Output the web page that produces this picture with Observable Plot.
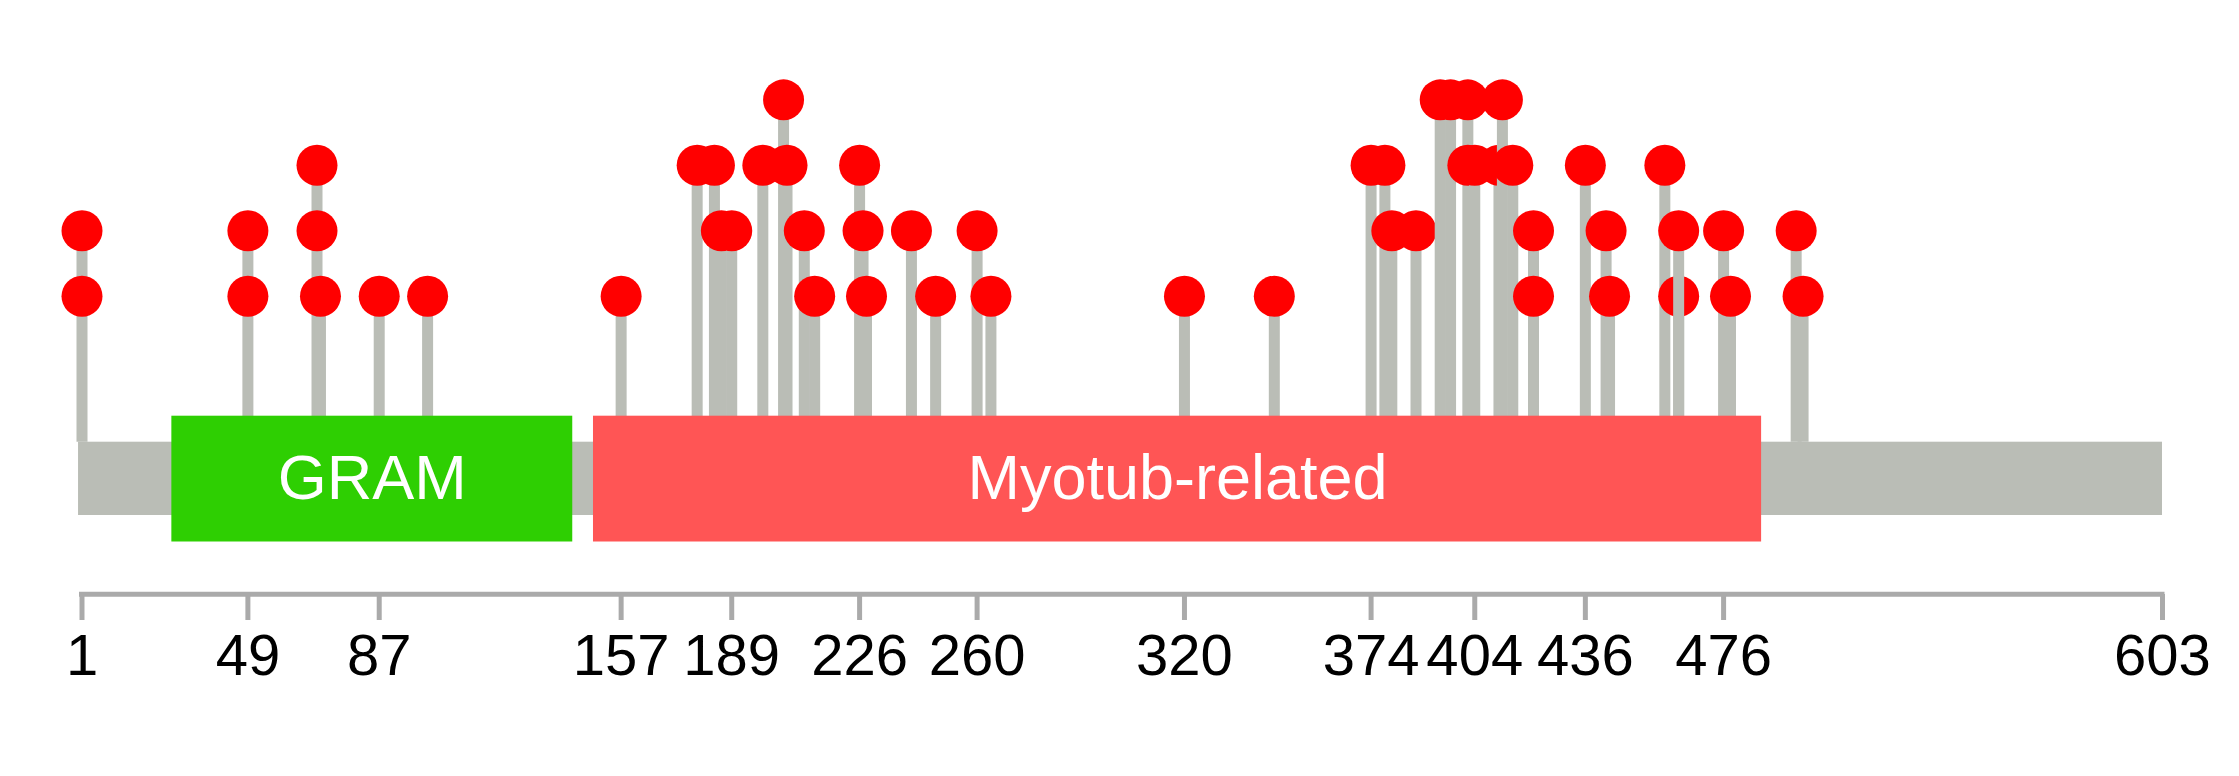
<!DOCTYPE html>
<html>
<head>
<meta charset="utf-8">
<script src="https://cdn.jsdelivr.net/npm/d3@7"></script>
<script src="https://cdn.jsdelivr.net/npm/@observablehq/plot@0.6"></script>
<style>
  html, body { margin: 0; padding: 0; background: #ffffff; }
  #chart svg { display: block; }
</style>
</head>
<body>
<div id="chart"></div>
<script>
// ---------------- data ----------------
const proteinLength = 603;

const domainNames  = ["GRAM", "Myotub-related"];
const domainStart  = [27, 149];
const domainEnd    = [143, 487];
const domainColors = ["#2ecf02", "#ff5555"];

// mutation sites (left to right) and the stacked levels of the dots at each site
const sitePos = [1, 49, 69, 70, 87, 101, 157, 179, 184, 186, 189, 198, 204, 205, 210, 213,
                 226, 227, 228, 241, 248, 260, 264, 320, 346, 374, 378, 380, 387, 394, 397,
                 402, 404, 411, 412, 415, 421, 436, 442, 443, 459, 463, 463, 476, 478, 497, 499];
const siteLevels = [[1,2],[1,2],[2,3],[1],[1],[1],[1],[3],[3],[2],[2],[3],[4],[3],[2],[1],
                    [3],[2],[1],[2],[1],[2],[1],[1],[1],[3],[3],[2],[2],[4],[4],
                    [3,4],[3],[3],[4],[3],[1,2],[3],[2],[1],[3],[1],[2],[2],[1],[2],[1]];

const tickValues = [1, 49, 87, 157, 189, 226, 260, 320, 374, 404, 436, 476, 603];

// ---------------- layout (pixels -> level units) ----------------
const W = 2239, H = 776;
const level0Px = 361.2, levelStep = 65.47;
const lev = px => (level0Px - px) / levelStep;

const barTop = lev(441.7), barBottom = lev(515);
const domTop = lev(415.7), domBottom = lev(541.5);
const midLine = lev(478.5);
const axisLineY = lev(593.7);
const tickTop = lev(594), tickBottom = lev(620);
const labelTop = lev(633);

const FONT = "'Liberation Sans', Arial, Helvetica, sans-serif";
const GREY = "#babdb6";
const LABEL_SQUEEZE = 0.91;

// ---------------- derived tables ----------------
const sites = sitePos.map((p, i) => ({ idx: i, pos: p, top: d3.max(siteLevels[i]) }));
const dots = sites.flatMap(s => siteLevels[s.idx].map(l => ({ site: s.idx, pos: s.pos, level: l })));
const domains = domainNames.map((n, i) => ({ name: n, start: domainStart[i], end: domainEnd[i], color: domainColors[i] }));
const protein = [{ x1: 0, x2: proteinLength }];

// per-site stick + dots (drawn in order)
const siteMarks = sites.flatMap(s => [
  Plot.ruleX([s], { x: "pos", y1: () => barTop, y2: "top", stroke: GREY, strokeWidth: 11 }),
  Plot.dot(dots.filter(d => d.site === s.idx), { x: "pos", y: "level", r: 20.5, fill: "#ff0000", stroke: "none" })
]);

const chart = Plot.plot({
  width: W,
  height: H,
  margin: 0,
  style: { background: "#ffffff", fontFamily: FONT },
  x: { domain: [1, proteinLength], range: [81.5, 2162], axis: null },
  y: { domain: [lev(H), lev(0)], range: [H, 0], axis: null },
  color: { type: "identity" },
  marks: [
    ...siteMarks,
    // protein backbone
    Plot.rect(protein, { x1: "x1", x2: "x2", y1: () => barTop, y2: () => barBottom, fill: GREY }),
    // domains
    Plot.rect(domains, { x1: "start", x2: "end", y1: () => domTop, y2: () => domBottom, fill: "color" }),
    Plot.text(domains, { x: d => (d.start + d.end) / 2, y: () => midLine, text: "name",
      fill: "#ffffff", fontSize: 63, fontFamily: FONT }),
    // axis
    Plot.ruleY([axisLineY], { y: d => d, x1: () => 1, x2: () => proteinLength,
      stroke: "#aaaaaa", strokeWidth: 5, strokeLinecap: "square" }),
    Plot.ruleX(tickValues, { x: d => d, y1: () => tickTop, y2: () => tickBottom,
      stroke: "#aaaaaa", strokeWidth: 5 }),
    Plot.text(tickValues, { x: d => d, y: () => labelTop, text: d => String(d),
      lineAnchor: "top", fill: "#000000", fontSize: 58, fontFamily: FONT, ariaLabel: "tick-labels" })
  ]
});

document.getElementById("chart").appendChild(chart);

// slightly condensed tick labels, as in the reference
d3.select(chart).selectAll('g[aria-label="tick-labels"] text').each(function () {
  const len = this.getComputedTextLength();
  if (len > 0) {
    this.setAttribute("textLength", (len * LABEL_SQUEEZE).toFixed(1));
    this.setAttribute("lengthAdjust", "spacingAndGlyphs");
  }
});
</script>
</body>
</html>
